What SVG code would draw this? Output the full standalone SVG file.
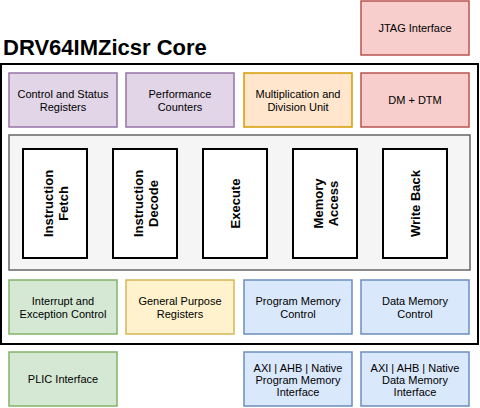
<svg xmlns="http://www.w3.org/2000/svg" width="480" height="408" viewBox="0 0 480 408">
<style>
text{font-family:"Liberation Sans",Arial,Helvetica,sans-serif;fill:#000;text-anchor:middle}
.lbl{font-size:11px}
.stage-t{font-size:13px;font-weight:bold}
.title{font-size:22px;font-weight:bold;text-anchor:start}
.box{stroke-width:1.5}
.purple{fill:#e1d5e7;stroke:#9673a6}
.orange{fill:#ffe6cc;stroke:#d79b00}
.red{fill:#f8cecc;stroke:#b85450}
.green{fill:#d5e8d4;stroke:#82b366}
.yellow{fill:#fff2cc;stroke:#d6b656}
.blue{fill:#dae8fc;stroke:#6c8ebf}
.stage{fill:#fff;stroke:#000;stroke-width:2}
</style>
<rect width="480" height="408" fill="#fff"/>
<g id="jtag"><rect class="box red" x="361" y="1" width="108" height="54"/><text class="lbl" x="415" y="32">JTAG Interface</text></g>
<g id="title"><text class="title" x="3" y="55">DRV64IMZicsr Core</text></g>
<g id="core"><rect x="1" y="64" width="477" height="280" fill="#fff" stroke="#000" stroke-width="2"/></g>
<g id="csr"><rect class="box purple" x="9" y="73" width="108" height="54"/><text class="lbl" x="63" y="98">Control and Status</text><text class="lbl" x="63" y="110.5">Registers</text></g>
<g id="perf"><rect class="box purple" x="126" y="73" width="108" height="54"/><text class="lbl" x="180" y="98">Performance</text><text class="lbl" x="180" y="110.5">Counters</text></g>
<g id="muldiv"><rect class="box orange" x="244" y="73" width="108" height="54"/><text class="lbl" x="298" y="98">Multiplication and</text><text class="lbl" x="298" y="110.5">Division Unit</text></g>
<g id="dm"><rect class="box red" x="361" y="73" width="108" height="54"/><text class="lbl" x="415" y="104">DM + DTM</text></g>
<g id="pipeline"><rect x="9" y="135" width="461" height="135" fill="#f5f5f5" stroke="#666" stroke-width="1.5"/></g>
<g id="if"><rect class="stage" x="23" y="149" width="64" height="109"/><text class="stage-t" transform="translate(55 203.5) rotate(-90)"><tspan x="0" y="-2.5">Instruction</tspan><tspan x="0" y="12.5">Fetch</tspan></text></g>
<g id="id"><rect class="stage" x="113" y="149" width="64" height="109"/><text class="stage-t" transform="translate(145 203.5) rotate(-90)"><tspan x="0" y="-2.5">Instruction</tspan><tspan x="0" y="12.5">Decode</tspan></text></g>
<g id="ex"><rect class="stage" x="203" y="149" width="64" height="109"/><text class="stage-t" transform="translate(235 203.5) rotate(-90)" x="0" y="5">Execute</text></g>
<g id="mem"><rect class="stage" x="293" y="149" width="64" height="109"/><text class="stage-t" transform="translate(325 203.5) rotate(-90)"><tspan x="0" y="-2.5">Memory</tspan><tspan x="0" y="12.5">Access</tspan></text></g>
<g id="wb"><rect class="stage" x="383" y="149" width="64" height="109"/><text class="stage-t" transform="translate(415 203.5) rotate(-90)" x="0" y="5">Write Back</text></g>
<g id="irq"><rect class="box green" x="9" y="280" width="108" height="54"/><text class="lbl" x="63" y="305">Interrupt and</text><text class="lbl" x="63" y="317.5">Exception Control</text></g>
<g id="gpr"><rect class="box yellow" x="126" y="280" width="108" height="54"/><text class="lbl" x="180" y="305">General Purpose</text><text class="lbl" x="180" y="317.5">Registers</text></g>
<g id="pmc"><rect class="box blue" x="244" y="280" width="108" height="54"/><text class="lbl" x="298" y="305">Program Memory</text><text class="lbl" x="298" y="317.5">Control</text></g>
<g id="dmc"><rect class="box blue" x="361" y="280" width="108" height="54"/><text class="lbl" x="415" y="305">Data Memory</text><text class="lbl" x="415" y="317.5">Control</text></g>
<g id="plic"><rect class="box green" x="9" y="352" width="108" height="54"/><text class="lbl" x="63" y="383">PLIC Interface</text></g>
<g id="pmi"><rect class="box blue" x="244" y="352" width="108" height="54"/><text class="lbl" x="298" y="371.5">AXI | AHB | Native</text><text class="lbl" x="298" y="383.5">Program Memory</text><text class="lbl" x="298" y="395.5">Interface</text></g>
<g id="dmi"><rect class="box blue" x="361" y="352" width="108" height="54"/><text class="lbl" x="415" y="371.5">AXI | AHB | Native</text><text class="lbl" x="415" y="383.5">Data Memory</text><text class="lbl" x="415" y="395.5">Interface</text></g>
<g id="connectors"></g>
</svg>
